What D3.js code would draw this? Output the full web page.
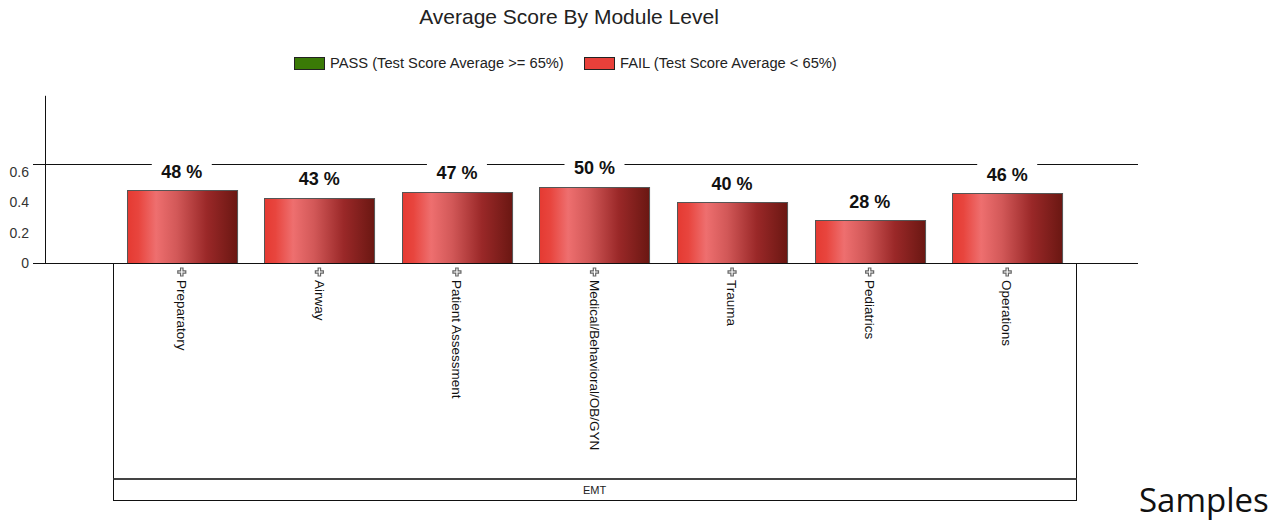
<!DOCTYPE html>
<html>
<head>
<meta charset="utf-8">
<script src="https://cdn.jsdelivr.net/npm/d3@7"></script>
<style>
  body { margin: 0; background: #fff; }
  svg { display: block; font-family: "Liberation Sans", Arial, sans-serif; }
</style>
</head>
<body>
<div id="chart"></div>
<script>
// data
const modules = ['Preparatory', 'Airway', 'Patient Assessment', 'Medical/Behavioral/OB/GYN', 'Trauma', 'Pediatrics', 'Operations'];
const scores = [0.48, 0.43, 0.47, 0.50, 0.40, 0.28, 0.46];
const yTicks = [0, 0.2, 0.4, 0.6];
const passMark = 0.65;
const groupName = 'EMT';
const legendItems = ['PASS (Test Score Average >= 65%)', 'FAIL (Test Score Average < 65%)'];

const width = 1276;
const height = 521;
const axisX = 45;
const plotRight = 1138;
const baseY = 263;

const svg = d3
  .select('#chart')
  .append('svg')
  .attr('width', width)
  .attr('height', height);

const x = d3
  .scaleBand()
  .domain(modules)
  .range([113, 1076])
  .paddingInner(0.2)
  .paddingOuter(0.1);

const y = d3.scaleLinear().domain([0, 1.1]).range([baseY, baseY - 1.1 * 152]);

// bar gradient
const grad = svg
  .append('defs')
  .append('linearGradient')
  .attr('id', 'barGradient')
  .attr('x1', 0)
  .attr('x2', 1)
  .attr('y1', 0)
  .attr('y2', 0);
[
  ['0%', '#e53a32'],
  ['10%', '#e8453e'],
  ['26%', '#ee6f6f'],
  ['45%', '#d25858'],
  ['72%', '#9a2828'],
  ['100%', '#6a1712'],
].forEach(([o, c]) => grad.append('stop').attr('offset', o).attr('stop-color', c));

// title
svg
  .append('text')
  .attr('x', 569)
  .attr('y', 24)
  .attr('text-anchor', 'middle')
  .attr('font-size', 21)
  .attr('fill', '#222')
  .text('Average Score By Module Level');

// legend
const legend = svg.append('g');
const legendX = [294, 584];
const legendColors = ['#3a7a06', '#e8403a'];
legendItems.forEach((t, i) => {
  legend
    .append('rect')
    .attr('x', legendX[i] + 0.5)
    .attr('y', 57.5)
    .attr('width', 30)
    .attr('height', 12)
    .attr('fill', legendColors[i])
    .attr('stroke', '#222');
  legend
    .append('text')
    .attr('x', legendX[i] + 36)
    .attr('y', 68)
    .attr('font-size', 14.7)
    .attr('fill', '#222')
    .text(t);
});

// y axis
svg
  .append('line')
  .attr('x1', axisX + 0.5)
  .attr('x2', axisX + 0.5)
  .attr('y1', y(1.1))
  .attr('y2', baseY)
  .attr('stroke', '#111');

svg
  .append('g')
  .selectAll('text')
  .data(yTicks)
  .join('text')
  .attr('x', 29)
  .attr('y', (d) => y(d))
  .attr('dy', '0.36em')
  .attr('text-anchor', 'end')
  .attr('font-size', 14)
  .attr('fill', '#333')
  .text((d) => d);

// pass threshold line
svg
  .append('line')
  .attr('x1', 33)
  .attr('x2', plotRight)
  .attr('y1', Math.round(y(passMark)) + 0.5)
  .attr('y2', Math.round(y(passMark)) + 0.5)
  .attr('stroke', '#111');

// bars
svg
  .append('g')
  .selectAll('rect')
  .data(scores)
  .join('rect')
  .attr('x', (d, i) => Math.round(x(modules[i])) + 0.5)
  .attr('y', (d) => Math.round(y(d)) + 0.5)
  .attr('width', x.bandwidth())
  .attr('height', (d) => baseY - Math.round(y(d)))
  .attr('fill', 'url(#barGradient)')
  .attr('stroke', '#555');

// value labels with white background
const labels = svg
  .append('g')
  .selectAll('g')
  .data(scores)
  .join('g')
  .attr('transform', (d, i) => `translate(${x(modules[i]) + x.bandwidth() / 2},${y(d) - 19})`);

labels
  .append('rect')
  .attr('x', -30)
  .attr('y', -11)
  .attr('width', 60)
  .attr('height', 22)
  .attr('fill', '#fff');

labels
  .append('text')
  .attr('text-anchor', 'middle')
  .attr('dy', '0.36em')
  .attr('font-size', 18)
  .attr('font-weight', 'bold')
  .attr('fill', '#111')
  .text((d) => `${Math.round(d * 100)} %`);

// baseline
svg
  .append('line')
  .attr('x1', 33)
  .attr('x2', plotRight)
  .attr('y1', baseY + 0.5)
  .attr('y2', baseY + 0.5)
  .attr('stroke', '#111');

// group box below the axis
const boxLeft = x.range()[0];
const boxRight = x.range()[1];
svg
  .append('rect')
  .attr('x', boxLeft + 0.5)
  .attr('y', baseY + 0.5)
  .attr('width', boxRight - boxLeft)
  .attr('height', 237)
  .attr('fill', 'none')
  .attr('stroke', '#111');
svg
  .append('rect')
  .attr('x', boxLeft + 0.5)
  .attr('y', 478)
  .attr('width', boxRight - boxLeft)
  .attr('height', 2)
  .attr('fill', '#444');
svg
  .append('text')
  .attr('x', (boxLeft + boxRight) / 2)
  .attr('y', 494)
  .attr('text-anchor', 'middle')
  .attr('font-size', 11)
  .attr('fill', '#222')
  .text(groupName);

// category labels with expand icon
const cats = svg
  .append('g')
  .selectAll('g')
  .data(modules)
  .join('g')
  .attr('transform', (d) => `translate(${x(d) + x.bandwidth() / 2},272)`);

cats
  .append('path')
  .attr('d', 'M-1.2,-4h2.4v2.8h2.8v2.4h-2.8v2.8h-2.4v-2.8h-2.8v-2.4h2.8z')
  .attr('fill', '#fff')
  .attr('stroke', '#666')
  .attr('stroke-width', 1.2);

cats
  .append('text')
  .attr('transform', 'translate(0,8) rotate(90)')
  .attr('dy', '0.35em')
  .attr('font-size', 13.5)
  .attr('fill', '#111')
  .text((d) => d);

// caption on the right
svg
  .append('text')
  .attr('x', 1139)
  .attr('y', 512)
  .attr('font-family', 'Open Sans, Lato, sans-serif')
  .attr('font-size', 33)
  .attr('fill', '#111')
  .text('Samples');
</script>
</body>
</html>
